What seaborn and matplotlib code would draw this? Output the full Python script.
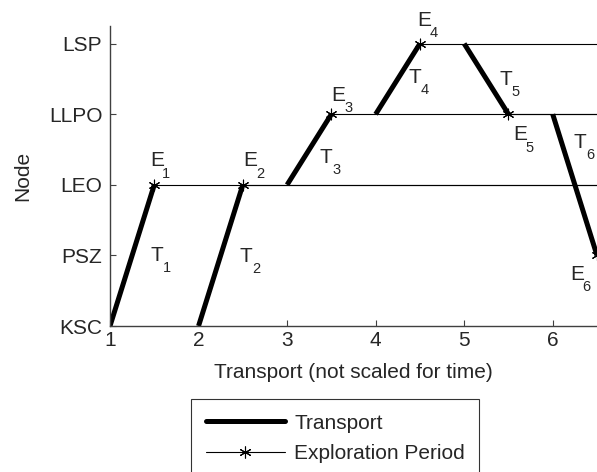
import pandas as pd
import matplotlib.pyplot as plt
from matplotlib.lines import Line2D
import seaborn as sns

# node order on the y axis
nodes = ["KSC", "PSZ", "LEO", "LLPO", "LSP"]

# transport legs: start step/node -> end step/node
leg_x0 = [1, 2, 3, 4, 5, 6]
leg_n0 = ["KSC", "KSC", "LEO", "LLPO", "LSP", "LLPO"]
leg_x1 = [1.5, 2.5, 3.5, 4.5, 5.5, 6.5]
leg_n1 = ["LEO", "LEO", "LLPO", "LSP", "LLPO", "PSZ"]

# exploration periods start where a leg ends and run on to the end
x_end = 6.5

# label offsets (data units) of the E_i and T_i tags from each leg's end point
e_off = [(-0.05, 0.26), (0.005, 0.26), (0.002, 0.19), (-0.027, 0.245), (0.054, -0.372), (-0.306, -0.348)]
t_off = [(-0.04, -1.074), (-0.032, -1.09), (-0.129, -0.692), (-0.131, -0.557), (-0.104, 0.418), (-0.26, 1.52)]

sns.set_style("ticks")
plt.rcParams["font.family"] = ["Liberation Sans", "DejaVu Sans"]
FS = 15
SUB = 10.5

pos = {n: i for i, n in enumerate(nodes)}
legs = pd.DataFrame({
    "leg": list(range(6)) * 2,
    "x": leg_x0 + leg_x1,
    "y": [pos[n] for n in leg_n0] + [pos[n] for n in leg_n1],
})
expl = pd.DataFrame({
    "leg": list(range(6)) * 2,
    "x": leg_x1 + [x_end] * 6,
    "y": [pos[n] for n in leg_n1] * 2,
})
pts = pd.DataFrame({"x": leg_x1, "y": [pos[n] for n in leg_n1]})

fig = plt.figure(figsize=(5.97, 4.72), dpi=100)
ax = fig.add_axes([110 / 597, 146 / 472, 487 / 597, 300 / 472])

sns.lineplot(data=expl, x="x", y="y", units="leg", estimator=None, sort=False,
             color="black", lw=0.8, ax=ax, legend=False)
sns.lineplot(data=legs, x="x", y="y", units="leg", estimator=None, sort=False,
             color="black", lw=3.6, ax=ax, legend=False, solid_capstyle="butt")
ax.scatter(pts["x"], pts["y"], marker=(6, 2, 0), s=60, color="black",
           linewidths=0.8, zorder=5)

for i, (x, n) in enumerate(zip(leg_x1, leg_n1)):
    for tag, (dx, dy) in (("E", e_off[i]), ("T", t_off[i])):
        tx, ty = x + dx, pos[n] + dy
        ax.text(tx, ty, tag, fontsize=FS, ha="left", va="baseline", clip_on=False)
        ax.annotate(str(i + 1), (tx, ty), xytext=(9, -8), textcoords="offset points",
                    fontsize=SUB, ha="left", va="baseline", annotation_clip=False)

ax.set_xlim(1, x_end)
ax.set_ylim(0, 4.25)
ax.set_xticks([1, 2, 3, 4, 5, 6])
ax.set_yticks(range(len(nodes)))
ax.set_yticklabels(nodes)
ax.tick_params(direction="in", length=4, width=0.8, color="#404040", labelsize=FS)
ax.tick_params(axis="x", pad=3.5)
ax.tick_params(axis="y", pad=5.5)
for s in ("top", "right"):
    ax.spines[s].set_visible(False)
for s in ("left", "bottom"):
    ax.spines[s].set_color("#404040")
    ax.spines[s].set_linewidth(1.0)

ax.set_xlabel("Transport (not scaled for time)", fontsize=FS)
ax.set_ylabel("Node", fontsize=FS)
ax.xaxis.set_label_coords(0.5, -0.123)
ax.yaxis.set_label_coords(-0.16, 0.5)

handles = [
    Line2D([], [], color="black", lw=3.6),
    Line2D([], [], color="black", lw=0.8, marker=(6, 2, 0), markersize=8.5,
           markeredgewidth=0.8),
]
leg = fig.legend(handles, ["Transport", "Exploration Period"], loc="upper left",
                 bbox_to_anchor=(191 / 597, 73 / 472), fontsize=FS, frameon=True,
                 fancybox=False, edgecolor="black", handlelength=3.8,
                 handletextpad=0.45, labelspacing=0.55, borderpad=0.7,
                 borderaxespad=0)
leg.get_frame().set_linewidth(0.8)

fig.savefig("out.png", dpi=100)
